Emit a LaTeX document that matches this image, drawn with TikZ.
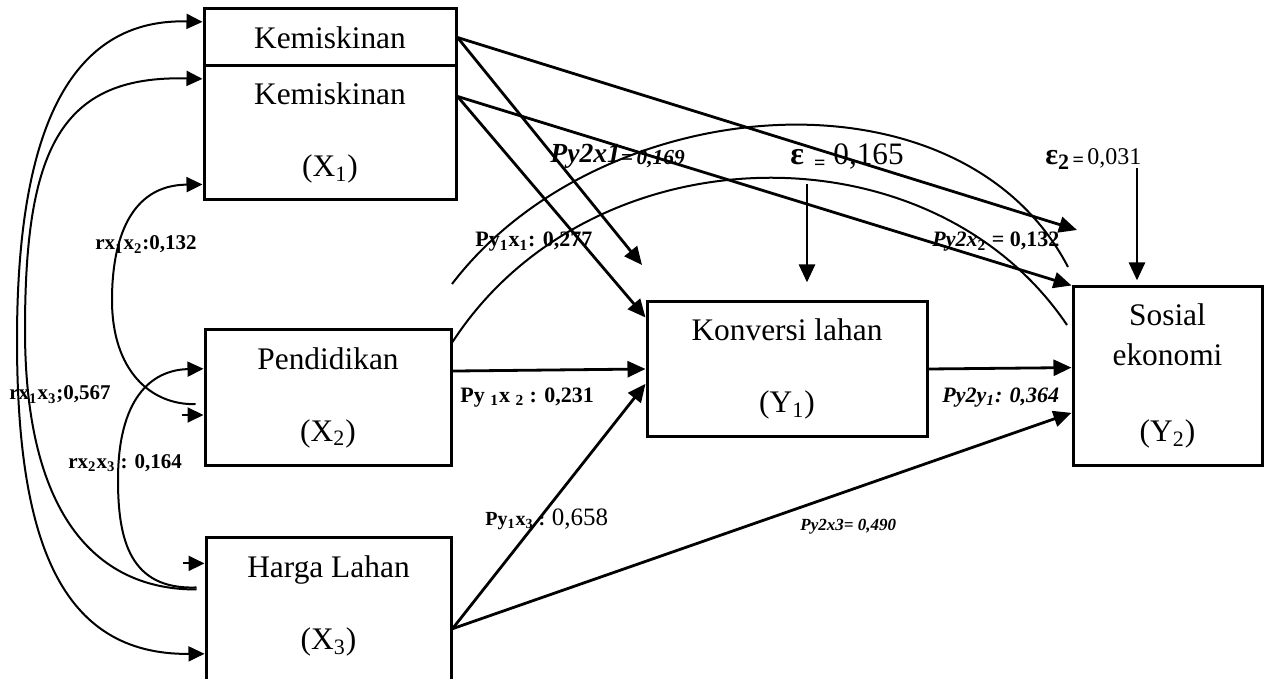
\documentclass[tikz,border=0pt]{standalone}
\usepackage{fontspec}
\setmainfont{Liberation Serif}
\usetikzlibrary{positioning,arrows.meta}

\begin{document}
\begin{tikzpicture}[x=0.5pt,y=-0.5pt,font=\fontsize{15.7}{20}\selectfont,>={Triangle[length=9pt,width=8pt]}]
    \tikzstyle{var}=[draw, line width=1.5pt, align=center, inner sep=0pt]
    \tikzstyle{link}=[line width=1.4pt, ->]
    \tikzstyle{arch}=[line width=1pt]
    \tikzstyle{corr}=[line width=1pt, >={Triangle[length=8pt,width=7.5pt]}]
    \tikzstyle{coef}=[inner sep=0pt, anchor=base west, font=\fontsize{11}{13}\selectfont\bfseries]

    \useasboundingbox (0,0) rectangle (1264,679);

    \node[var, minimum width=126pt, minimum height=28.5pt] (kemis) at (330,37.5) {Kemiskinan};
    \node[var, minimum width=126pt, minimum height=67pt] (x1) at (330,133) {Kemiskinan\\[16pt](X\textsubscript{1})};
    \node[var, minimum width=123pt, minimum height=67.5pt] (x2) at (328,397.5) {Pendidikan\\[16pt](X\textsubscript{2})};
    \node[var, minimum width=122.5pt, minimum height=76.5pt] (x3) at (328.5,613.5) {};
    \node[align=center, inner sep=0pt] (x3text) at (328.5,606) {Harga Lahan\\[16pt](X\textsubscript{3})};
    \node[var, minimum width=140pt, minimum height=67pt] (y1) at (787,369) {Konversi lahan\\[16pt](Y\textsubscript{1})};
    \node[var, minimum width=94.5pt, minimum height=89pt] (y2) at (1167.5,376) {Sosial\\ekonomi\\[18pt](Y\textsubscript{2})};

    \coordinate (tipa) at (642,265);
    \coordinate (tipb) at (1077,230);
    \coordinate (arcstart) at (452,284);
    \coordinate (arcend) at (1068,267);
    \coordinate (arcend2) at (1067,325);

    \draw[link] (kemis.east) -- (tipa);
    \draw[link] (kemis.east) -- (tipb);
    \draw[link] (x1.16) -- (y1.160);
    \draw[link] (x1.16) -- (y2.north west);
    \draw[link] (x2.12) -- (y1.180);
    \draw[link] (x3.-7) -- (y1.186);
    \draw[link] (x3.-7) -- (y2.201);
    \draw[link] (y1.east) -- (y2.175);

    \draw[arch] (arcstart) .. controls (600,90) and (960,60) .. (arcend);
    \draw[arch] (x2.24) .. controls (590,130) and (930,122) .. (arcend2);

    \draw[corr, <->] (x3.198) .. controls (60,655) and (17,540) .. (17,340) .. controls (17,150) and (60,18) .. (kemis.173);
    \draw[corr, ->, shorten <=4pt] (x3.169) .. controls (100,590) and (25,520) .. (25,330) .. controls (25,150) and (60,75) .. (x1.157);
    \draw[corr, ->, shorten <=4pt] (x2.183) .. controls (150,405) and (112,370) .. (112,300) .. controls (112,240) and (130,185) .. (x1.202);
    \draw[corr, ->] (x2.188) ++(-22,0) -- (x2.188);
    \draw[corr, ->, shorten <=4pt] (x3.168) .. controls (130,590) and (118,540) .. (118,480) .. controls (118,400) and (150,370) .. (x2.167);
    \draw[corr, ->] (x3.158) ++(-22,0) -- (x3.158);

    \node[coef, font=\bfseries\itshape] (py2x1) at (550,163) {{\fontsize{13.8}{15}\selectfont Py2x1}\raisebox{-1pt}{\fontsize{10.7}{12}\selectfont =\,0,169}};
    \node[coef, font=\normalfont] (eps1) at (790,165) {{\bfseries\fontsize{16}{18}\selectfont ε}\hspace{5pt}\raisebox{-2.5pt}{\bfseries\fontsize{10}{12}\selectfont =}\hspace{4pt}{\fontsize{15.6}{18}\selectfont 0,165}};
    \node[coef, font=\normalfont] (eps2) at (1045,165) {{\bfseries\fontsize{15}{18}\selectfont ε\raisebox{-2.5pt}{\fontsize{11}{12}\selectfont 2}}\,\raisebox{-1pt}{\bfseries\fontsize{10}{12}\selectfont =}\,{\fontsize{12}{13}\selectfont 0,031}};
    \draw[link] (eps1.south west) ++(17,14) -- ++(0,98);
    \draw[link] (eps2.south west) ++(92,-2) -- ++(0,112);

    \node[coef] (py1x1) at (475,247) {Py\textsubscript{1}x\textsubscript{1}: 0,277};
    \node[coef] (py2x2) at (932,247) {\textit{Py2x}\textsubscript{2} = 0,132};
    \node[coef] (py1x2) at (460,402) {Py \textsubscript{1}x \textsubscript{2} : 0,231};
    \node[coef, font=\fontsize{11}{13}\selectfont\bfseries\itshape] (py2y1) at (942,402) {Py2y\textsubscript{1}: 0,364};
    \node[coef, font=\fontsize{10}{12}\selectfont\bfseries] (py1x3) at (485,525) {Py\textsubscript{1}x\textsubscript{3} : {\normalfont\fontsize{12.5}{14}\selectfont 0,658}};
    \node[coef, font=\fontsize{8.5}{10}\selectfont\bfseries\itshape] (py2x3) at (800,530) {Py2x3= 0,490};

    \node[coef, font=\fontsize{10.5}{12}\selectfont\bfseries] (r12) at (95,250) {rx\textsubscript{1}x\textsubscript{2}:0,132};
    \node[coef, font=\fontsize{10.5}{12}\selectfont\bfseries] (r13) at (9,400) {rx\textsubscript{1}x\textsubscript{3};0,567};
    \node[coef, font=\fontsize{10.5}{12}\selectfont\bfseries] (r23) at (68,468) {rx\textsubscript{2}x\textsubscript{3} : 0,164};
\end{tikzpicture}
\end{document}
